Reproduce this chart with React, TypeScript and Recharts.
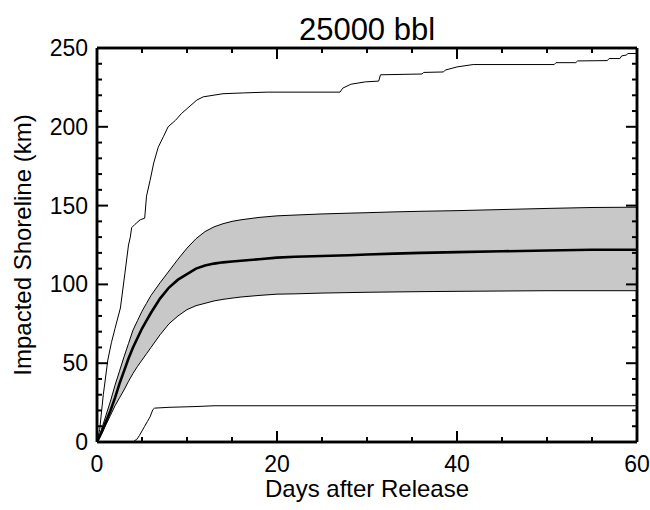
import { ComposedChart, Area, Line, XAxis, YAxis, Label, CartesianGrid } from 'recharts';

const FONT = '"Liberation Sans", Arial, Helvetica, sans-serif';

// shaded band (lower / upper edge) and the mean, sampled on the same days
const bandDays = [0, 0.5, 1, 1.5, 2, 2.5, 3, 3.5, 4, 4.5, 5, 5.5, 6, 7, 8, 9, 10, 11, 12, 13, 14, 15, 16, 18, 20, 22, 25, 28, 30, 33, 36, 40, 45, 50, 55, 60];
const bandLow = [0, 5, 11, 17, 23, 28, 33, 38.5, 43.5, 48, 52, 56, 60, 68, 75, 80, 84, 86.5, 88, 89.5, 90.5, 91.3, 92, 93, 93.8, 94, 94.5, 94.8, 95, 95.2, 95.4, 95.6, 95.8, 96, 96, 96];
const bandHigh = [0, 8, 17, 26, 36, 45, 54, 62.5, 71, 77, 83, 88, 93, 101, 108.5, 116, 123, 129, 133.5, 136.5, 138.5, 140, 141, 142.5, 143.5, 144, 144.7, 145.2, 145.5, 146, 146.4, 146.8, 147.5, 148.2, 148.8, 149];
const meanKm = [0, 6, 13, 20, 28, 37, 45, 53, 60, 66, 72, 77, 82, 91, 98, 103, 106.5, 110, 112, 113.2, 114, 114.5, 115, 116, 117, 117.5, 118, 118.5, 119, 119.5, 120, 120.5, 121, 121.5, 122, 122];

// maximum run
const maxDays = [0, 0.3, 0.7, 1.2, 1.6, 2.0, 2.6, 3.1, 3.5, 3.7, 3.85, 4.2, 4.8, 5.3, 5.5, 5.9, 6.3, 6.8, 7.4, 7.9, 8.7, 9.4, 10.1, 11.1, 11.8, 14, 16.3, 18.9, 27.0, 27.3, 28.2, 29.8, 31.3, 31.5, 36.1, 36.3, 38.5, 38.7, 40, 41.8, 50.8, 51, 53.2, 53.4, 56.7, 56.9, 58.1, 58.3, 58.8, 59, 60];
const maxKm = [0, 8, 30, 52, 63, 72, 85, 107, 125, 130, 136, 138, 141, 142, 156, 166, 177, 187, 194, 200, 204, 208.5, 212, 217, 219, 221, 221.5, 222, 222, 224.5, 227, 228.5, 229, 233, 233.5, 234.5, 234.8, 236, 238, 239.5, 239.5, 240.7, 240.7, 241.8, 242, 243.3, 243.3, 245, 245.5, 246.5, 246.5];

// minimum run
const minDays = [0, 4.0, 4.2, 4.4, 4.7, 5.0, 5.3, 5.6, 5.9, 6.2, 6.4, 8, 11, 13, 60];
const minKm = [0, 0, 1, 1.5, 4, 7, 10, 13, 16, 20.5, 21.5, 22, 22.5, 23, 23];

const xTicks = [0, 5, 10, 15, 20, 25, 30, 35, 40, 45, 50, 55, 60];
const yTicks = [0, 10, 20, 30, 40, 50, 60, 70, 80, 90, 100, 110, 120, 130, 140, 150, 160, 170, 180, 190, 200, 210, 220, 230, 240, 250];

const bandData = bandDays.map((d, i) => ({ day: d, range: [bandLow[i], bandHigh[i]], mean: meanKm[i] }));
const maxData = maxDays.map((d, i) => ({ day: d, km: maxKm[i] }));
const minData = minDays.map((d, i) => ({ day: d, km: minKm[i] }));

function BottomTick(props: any) {
  const { x, y, payload } = props;
  const major = payload.value % 20 === 0;
  return (
    <g>
      <line x1={x} y1={y} x2={x} y2={y - (major ? 11 : 5)} stroke="#000" strokeWidth={2} />
      {major && (
        <text x={x} y={y + 30} textAnchor="middle" fontSize={23} fontFamily={FONT} fill="#000">
          {payload.value}
        </text>
      )}
    </g>
  );
}

function TopTick(props: any) {
  const { x, y, payload } = props;
  const major = payload.value % 20 === 0;
  return <line x1={x} y1={y} x2={x} y2={y + (major ? 11 : 5)} stroke="#000" strokeWidth={2} />;
}

function LeftTick(props: any) {
  const { x, y, payload } = props;
  const major = payload.value % 50 === 0;
  return (
    <g>
      <line x1={x} y1={y} x2={x + (major ? 11 : 5)} y2={y} stroke="#000" strokeWidth={2} />
      {major && (
        <text x={x - 9} y={y + 8} textAnchor="end" fontSize={23} fontFamily={FONT} fill="#000">
          {payload.value}
        </text>
      )}
    </g>
  );
}

function RightTick(props: any) {
  const { x, y, payload } = props;
  const major = payload.value % 50 === 0;
  return <line x1={x} y1={y} x2={x - (major ? 11 : 5)} y2={y} stroke="#000" strokeWidth={2} />;
}

export default function App() {
  return (
    <div style={{ position: 'absolute', left: 0, top: 0, background: '#fff' }}>
      <ComposedChart
        width={650}
        height={510}
        data={bandData}
        margin={{ top: 47, right: 12, bottom: 0, left: 0 }}>
        {/* plot frame */}
        <CartesianGrid horizontalValues={[0, 250]} verticalValues={[0, 60]} stroke='#000' strokeWidth={2.5} />
        <Area
          dataKey='range'
          type='linear'
          fill='#c8c8c8'
          fillOpacity={1}
          stroke='#000'
          strokeWidth={1}
          isAnimationActive={false}
        />
        <Line dataKey='mean' type='linear' stroke='#000' strokeWidth={2.6} dot={false} isAnimationActive={false} />
        <Line data={maxData} dataKey='km' type='linear' stroke='#000' strokeWidth={1} dot={false} isAnimationActive={false} />
        <Line data={minData} dataKey='km' type='linear' stroke='#000' strokeWidth={1} dot={false} isAnimationActive={false} />
        {/* hidden copy so the top and right axes have a series */}
        <Line
          data={maxData}
          dataKey='km'
          xAxisId='top'
          yAxisId='right'
          stroke='none'
          dot={false}
          activeDot={false}
          isAnimationActive={false}
        />

        <XAxis
          dataKey='day'
          type='number'
          domain={[0, 60]}
          allowDataOverflow
          ticks={xTicks}
          interval={0}
          height={68}
          tickSize={0}
          tickMargin={0}
          tickLine={false}
          stroke='#000'
          strokeWidth={2.5}
          tick={<BottomTick />}>
          <Label
            value='Days after Release'
            position='insideBottom'
            offset={13}
            style={{ fontSize: 24, fontFamily: FONT, fill: '#000' }}
          />
        </XAxis>
        <XAxis
          xAxisId='top'
          dataKey='day'
          orientation='top'
          type='number'
          domain={[0, 60]}
          allowDataOverflow
          ticks={xTicks}
          interval={0}
          height={1}
          tickSize={0}
          tickMargin={0}
          tickLine={false}
          stroke='#000'
          strokeWidth={2.5}
          tick={<TopTick />}>
          <Label
            value='25000 bbl'
            position='top'
            offset={7}
            style={{ fontSize: 31, fontFamily: FONT, fill: '#000' }}
          />
        </XAxis>
        <YAxis
          type='number'
          domain={[0, 250]}
          allowDataOverflow
          ticks={yTicks}
          interval={0}
          width={97}
          tickSize={0}
          tickMargin={0}
          tickLine={false}
          stroke='#000'
          strokeWidth={2.5}
          tick={<LeftTick />}>
          <Label
            value='Impacted Shoreline (km)'
            angle={-90}
            position='insideLeft'
            offset={22}
            style={{ fontSize: 24, fontFamily: FONT, fill: '#000', textAnchor: 'middle' }}
          />
        </YAxis>
        <YAxis
          yAxisId='right'
          orientation='right'
          type='number'
          domain={[0, 250]}
          allowDataOverflow
          ticks={yTicks}
          interval={0}
          width={1}
          tickSize={0}
          tickMargin={0}
          tickLine={false}
          stroke='#000'
          strokeWidth={2.5}
          tick={<RightTick />}
        />
      </ComposedChart>
    </div>
  );
}
